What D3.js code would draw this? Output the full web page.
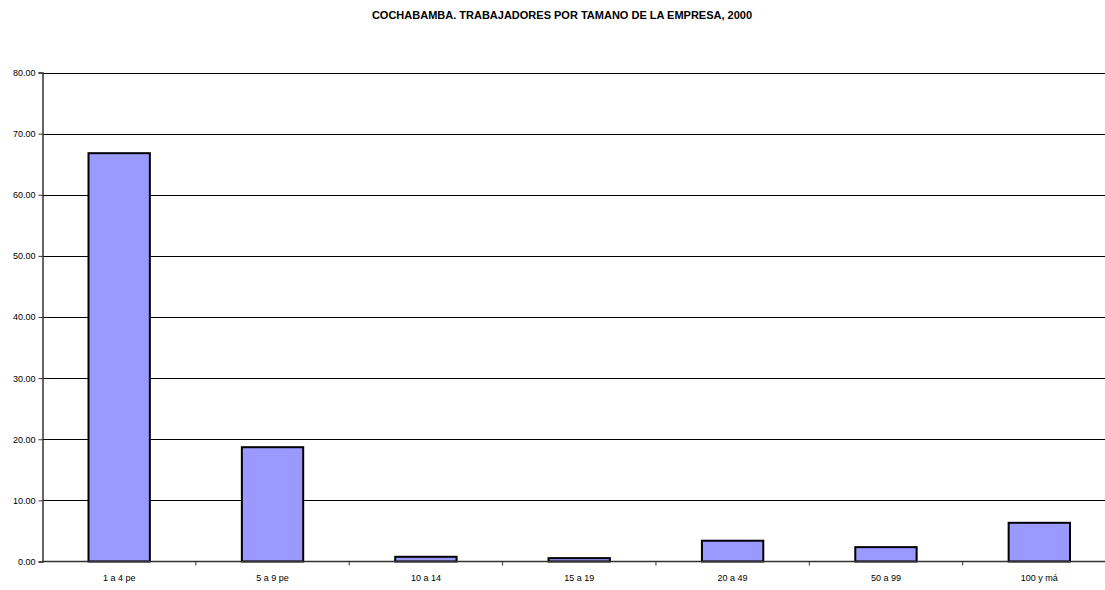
<meta http-equiv="Content-type" content="text/html;charset=UTF-8">
<html>
<head>
<title>Cochabamba</title>
<script src="https://cdn.jsdelivr.net/npm/d3@7"></script>
<style>
body { margin: 0; background: #fff; font-family: "Liberation Sans", Arial, sans-serif; overflow: hidden; }
</style>
</head>
<body>
<div id="chart"></div>
<script>
var categories = ["1 a 4 pe", "5 a 9 pe", "10 a 14", "15 a 19", "20 a 49", "50 a 99", "100 y má"];
var values = [66.8, 18.7, 0.77, 0.55, 3.4, 2.35, 6.33];
var yTicks = [0, 10, 20, 30, 40, 50, 60, 70, 80];

var W = 1105, H = 590;
var plotLeft = 42.5, plotRight = 1116, plotTop = 72.5, plotBottom = 561.5;

var svg = d3.select("#chart").append("svg").attr("width", W).attr("height", H);

svg.append("text").attr("x", 562).attr("y", 19).attr("text-anchor", "middle")
	.style("font-size", "11px").style("font-weight", "bold").text("COCHABAMBA. TRABAJADORES POR TAMANO DE LA EMPRESA, 2000");

var x = d3.scaleBand().domain(categories).range([plotLeft, plotRight]).paddingInner(0.6).paddingOuter(0.3);
var xc = d3.scaleBand().domain(categories).range([plotLeft, plotRight]);
var y = d3.scaleLinear().domain([0, 80]).range([plotBottom, plotTop]);

// gridlines
svg.append("g").selectAll("line").data(yTicks.filter(function(d){ return d > 0; })).enter().append("line")
	.attr("x1", plotLeft).attr("x2", plotRight)
	.attr("y1", function(d){ return Math.round(y(d)) + 0.5; }).attr("y2", function(d){ return Math.round(y(d)) + 0.5; })
	.style("stroke", "#000").style("stroke-width", 1);

// bars
svg.append("g").selectAll("rect").data(values).enter().append("rect")
	.attr("x", function(d, i){ return x(categories[i]); })
	.attr("width", x.bandwidth())
	.attr("y", function(d){ return y(d); })
	.attr("height", function(d){ return plotBottom - y(d); })
	.style("fill", "#9999FF").style("stroke", "#000").style("stroke-width", 2);

// y axis
var yAxis = d3.axisLeft(y).tickValues(yTicks).tickSize(4).tickFormat(d3.format(".2f"));
var gy = svg.append("g").attr("transform", "translate(" + plotLeft + ",0)").call(yAxis);
gy.select(".domain").style("stroke", "#333").style("stroke-width", 1.5);
gy.selectAll(".tick line").style("stroke", "#333");
gy.selectAll("text").style("font-size", "9px").style("font-family", "Liberation Sans, Arial, sans-serif").attr("x", -7).attr("fill", "#000");

// x axis
var gx = svg.append("g").attr("transform", "translate(0," + plotBottom + ")");
gx.append("line").attr("x1", plotLeft).attr("x2", plotRight).attr("y1", 0).attr("y2", 0).style("stroke", "#333").style("stroke-width", 1.5);
gx.selectAll(".tk").data(categories.slice(1)).enter().append("line").attr("class", "tk")
	.attr("x1", function(d){ return xc(d); }).attr("x2", function(d){ return xc(d); })
	.attr("y1", 0).attr("y2", 4).style("stroke", "#333");
gx.selectAll("text").data(categories).enter().append("text")
	.attr("x", function(d){ return xc(d) + xc.bandwidth() / 2; }).attr("y", 19)
	.attr("text-anchor", "middle").style("font-size", "9px").text(function(d){ return d; });
</script>
</body>
</html>
